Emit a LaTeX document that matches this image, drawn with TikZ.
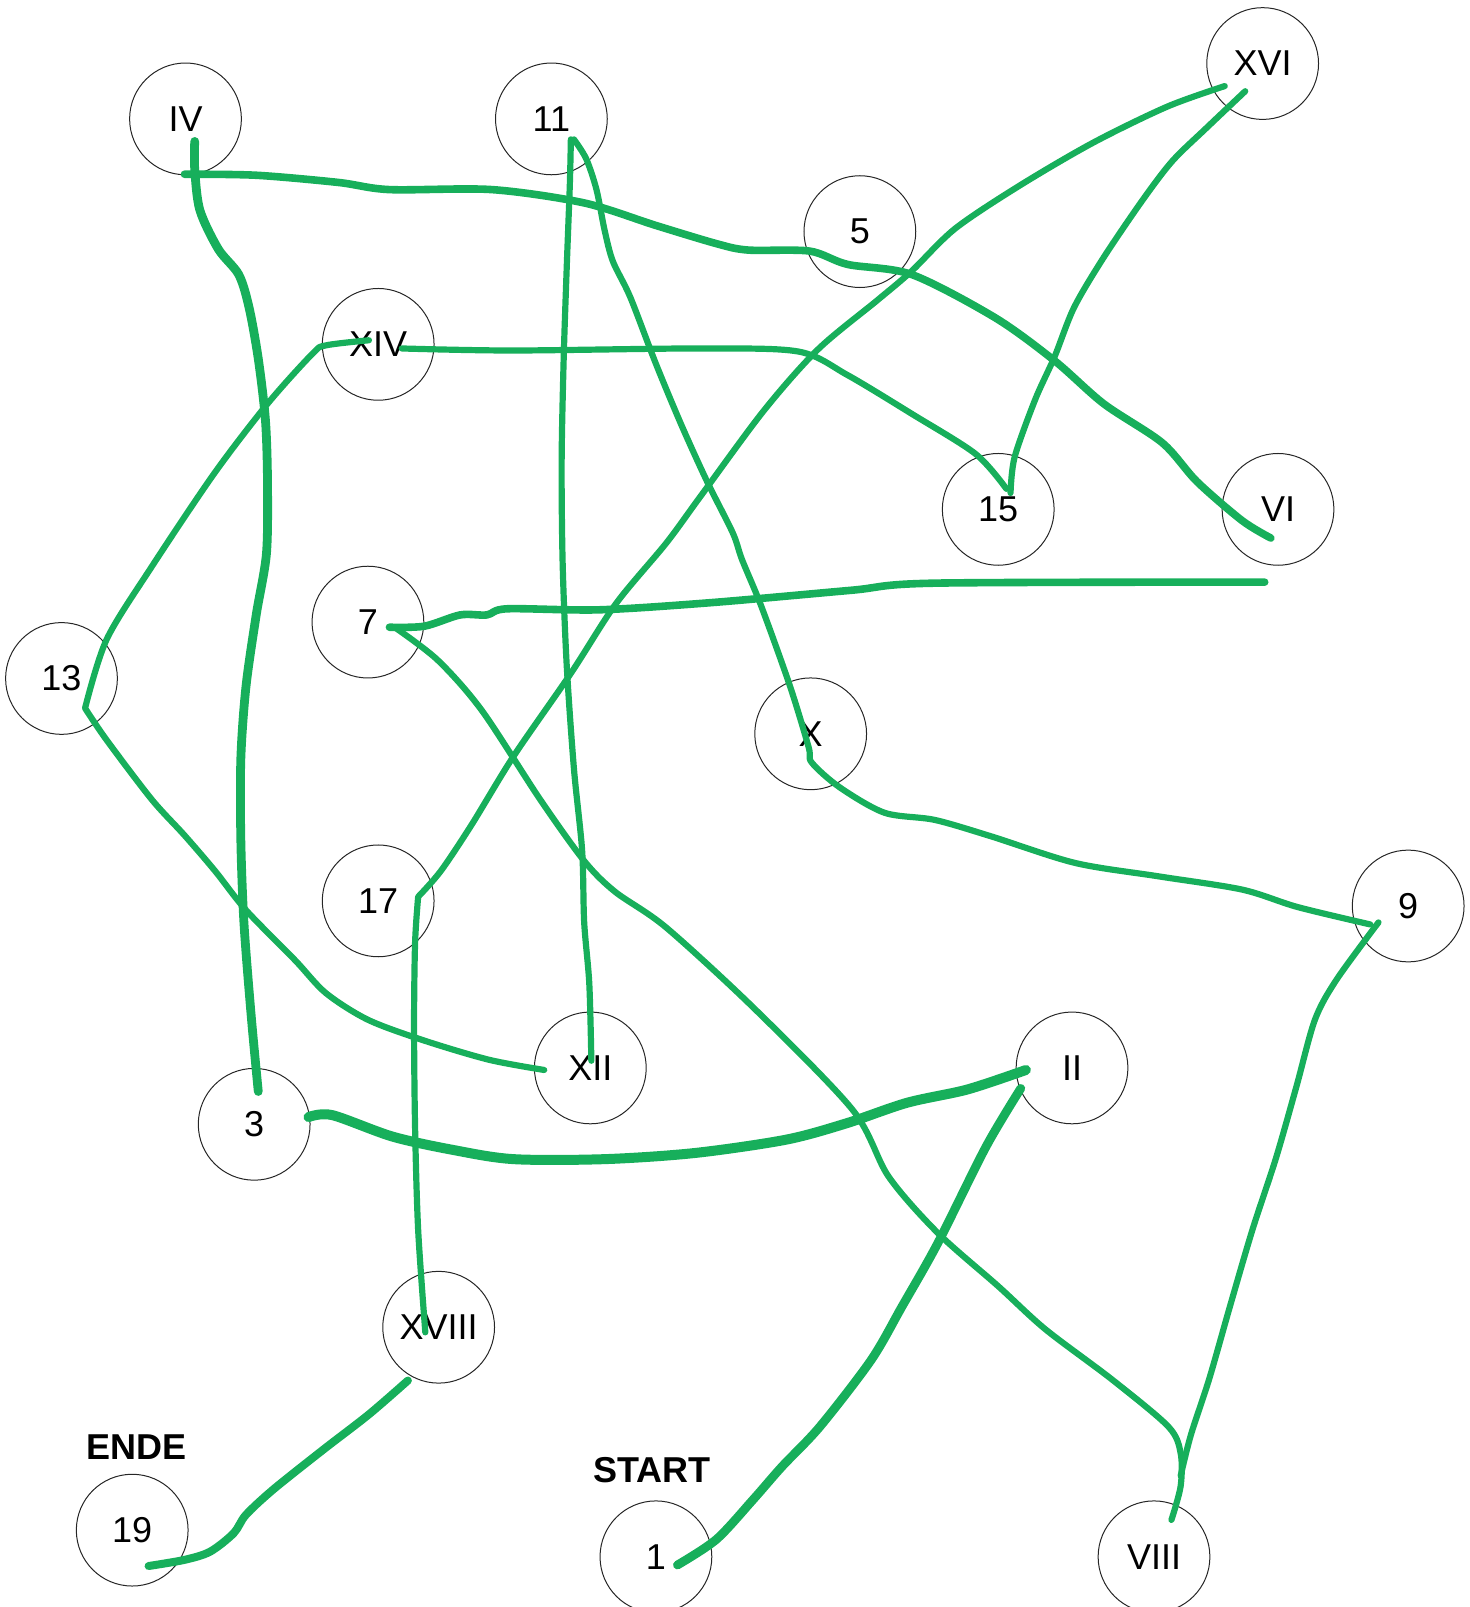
\documentclass[tikz,border=0pt]{standalone}
\usepackage{fontspec}
\setmainfont{Liberation Sans}
\usepackage{tikz}
\definecolor{trailG}{RGB}{23,175,91}
\tikzstyle{station}=[circle, draw=black!85, line width=0.5pt, minimum size=55.9pt, inner sep=0pt, font=\fontsize{18}{18}\selectfont]
\tikzstyle{marker}=[font=\fontsize{18}{18}\selectfont\bfseries]
\tikzstyle{trail}=[draw=trailG, line width=3.1pt, line cap=round, line join=round]
\tikzstyle{heavytrail}=[trail, line width=4.4pt]

\begin{document}
\begin{tikzpicture}[x=0.5126pt, y=-0.5126pt]
			\useasboundingbox (0,0) rectangle (1434,1568);

			% Stations
			\node[station] (n4)  at ( 181, 116) {IV};
			\node[station] (n11) at ( 538, 116) {11};
			\node[station] (n16) at (1232,  62) {XVI};
			\node[station] (n5)  at ( 839, 226) {5};
			\node[station] (n14) at ( 369, 336) {XIV};
			\node[station] (n15) at ( 974, 497) {15};
			\node[station] (n6)  at (1247, 497) {VI};
			\node[station] (n7)  at ( 359, 607) {7};
			\node[station] (n13) at (  60, 662) {13};
			\node[station] (n10) at ( 791, 716) {X};
			\node[station] (n17) at ( 369, 879) {17};
			\node[station] (n9)  at (1374, 884) {9};
			\node[station] (n12) at ( 576,1042) {XII};
			\node[station] (n2)  at (1046,1042) {II};
			\node[station] (n3)  at ( 248,1097) {3};
			\node[station] (n18) at ( 428,1295) {XVIII};
			\node[station] (n19) at ( 129,1493) {19};
			\node[station] (n1)  at ( 640,1519) {1};
			\node[station] (n8)  at (1126,1519) {VIII};

			\node[marker] (ende)  at (133,1412) {ENDE};
			\node[marker] (start) at (636,1434) {START};

			\coordinate (tail) at (1234,568);

			% Trails from the top row
			\draw[heavytrail] plot[smooth, tension=0.5] coordinates {([shift={(9,22)}]n4.center) (190,165) (195,205) (213,243) (233,268) (243,300) (252,350) (259,410) (261,470) (260,540) (250,600) (240,670) (235,740) (235,820) (238,900) (245,990) ([shift={(4,-32)}]n3.center)};
			\draw[heavytrail, line width=3.8pt] plot[smooth, tension=0.5] coordinates {([shift={(-1,54)}]n4.center) (250,171) (330,178) (380,185) (480,185) (570,198) (640,220) (700,238) (730,244) (790,245) (827,258) (890,268) (971,310) (1029,352) (1077,394) (1134,432) (1168,470) (1212,508) ([shift={(-7,28)}]n6.center)};
			\draw[trail] plot[smooth, tension=0.5] coordinates {([shift={(19,20)}]n11.center) (556,180) (553,260) (550,350) (548,450) (549,550) (553,650) (560,750) (568,830) (570,900) (575,960) ([shift={(1,-7)}]n12.center)};
			\draw[trail] plot[smooth, tension=0.5] coordinates {([shift={(22,20)}]n11.center) (572,155) (582,185) (590,225) (598,255) (615,290) (640,355) (665,415) (690,470) (715,520) (724,546) (743,592) (771,670) (789,729) (792,744) (819,768) (863,793) (912,800) (967,816) (1049,842) (1130,855) (1212,868) (1266,885) ([shift={(-37,18)}]n9.center)};

			% Trails from XVI
			\draw[trail] plot[smooth, tension=0.5] coordinates {([shift={(-37,22)}]n16.center) (1139,104) (1067,139) (995,181) (932,223) (889,265) (856,293) (798,341) (745,401) (683,485) (650,530) (601,589) (557,657) (501,738) (460,805) (430,850) ([shift={(39,-4)}]n17.center)}
				plot[smooth, tension=0.5] coordinates {([shift={(39,-4)}]n17.center) (405,920) (404,1000) (405,1100) (408,1200) ([shift={(-13,5)}]n18.center)};
			\draw[trail] plot[smooth, tension=0.5] coordinates {([shift={(-17,27)}]n16.center) (1177,125) (1144,157) (1115,195) (1077,251) (1048,300) (1029,348) (1010,390) (990,446) ([shift={(12,-16)}]n15.center)};

			% Trails from XIV
			\draw[trail] plot[smooth, tension=0.5] coordinates {([shift={(-9,-4)}]n14.center) (318,337) (305,345) (261,394) (209,462) (148,553) (104,624) ([shift={(23,29)}]n13.center)}
				plot[smooth, tension=0.5] coordinates {([shift={(23,29)}]n13.center) (104,722) (148,780) (180,815) (210,850) (240,888) (288,937) (318,969) (359,995) (413,1015) (477,1034) ([shift={(-45,2)}]n12.center)};
			\draw[trail] plot[smooth, tension=0.5] coordinates {([shift={(23,4)}]n14.center) (500,342) (683,340) (779,343) (827,366) (890,404) (952,443) ([shift={(8,-20)}]n15.center)};

			% Trails from 7
			\draw[heavytrail, line width=3.8pt] plot[smooth, tension=0.5] coordinates {([shift={(21,5)}]n7.center) (414,611) (449,600) (475,600) (495,594) (585,595) (694,588) (830,576) (912,569) (tail)};
			\draw[trail] plot[smooth, tension=0.5] coordinates {([shift={(26,5)}]n7.center) (427,644) (470,693) (527,780) (570,840) (600,870) (650,905) (737,985) (832,1083) (867,1148) (915,1203) (974,1255) (1020,1297) (1085,1346) (1140,1392) (1152,1418) (1152,1450) ([shift={(17,-36)}]n8.center)};
			\draw[trail] plot[smooth, tension=0.5] coordinates {([shift={(-29,16)}]n9.center) (1304,956) (1283,995) (1265,1060) (1245,1130) (1222,1200) (1200,1275) (1180,1345) (1162,1400) ([shift={(26,-79)}]n8.center)};

			% Trails to II and to the end
			\draw[heavytrail, line width=5pt] plot[smooth, tension=0.5] coordinates {([shift={(53,-7)}]n3.center) (324,1088) (383,1109) (442,1122) (501,1131) (590,1131) (678,1125) (767,1112) (826,1096) (885,1076) (944,1063) ([shift={(-45,2)}]n2.center)};
			\draw[heavytrail] plot[smooth, tension=0.5] coordinates {([shift={(21,8)}]n1.center) (699,1502) (735,1463) (763,1431) (800,1392) (850,1327) (880,1275) (915,1213) (962,1119) ([shift={(-50,20)}]n2.center)};
			\draw[heavytrail, line width=4pt] plot[smooth, tension=0.5] coordinates {([shift={(-30,52)}]n18.center) (360,1380) (316,1414) (267,1453) (240,1478) (228,1496) (205,1514) (180,1522) ([shift={(16,35)}]n19.center)};
		\end{tikzpicture}
\end{document}
